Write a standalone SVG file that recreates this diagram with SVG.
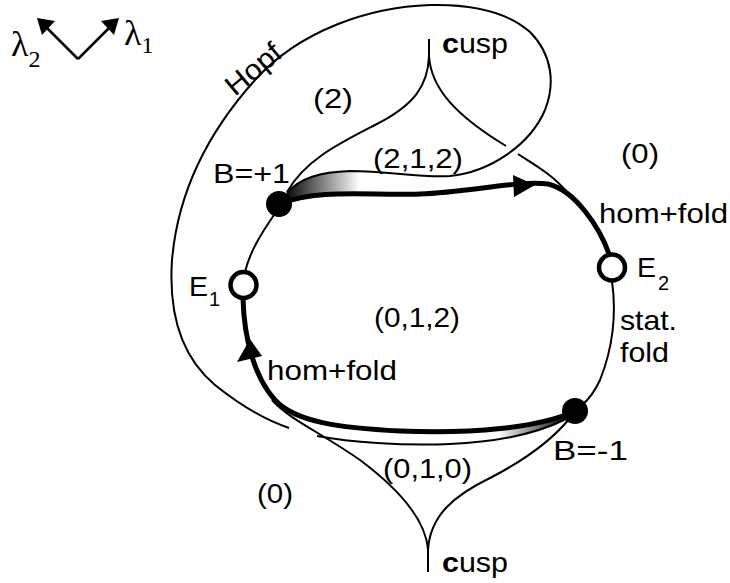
<svg xmlns="http://www.w3.org/2000/svg" width="730" height="583" viewBox="0 0 730 583">
<style>
.thin{fill:none;stroke:#000;stroke-width:2}
.thick{fill:none;stroke:#000;stroke-width:5;stroke-linecap:round}
.t{font-family:"Liberation Sans",Arial,sans-serif;font-size:28.5px;fill:#000}
.sub{font-size:20px}
.g{font-family:"Liberation Serif","Times New Roman",serif;fill:#000}
.dot{fill:#000}
.ring{fill:#fff;stroke:#000;stroke-width:4.5}
</style>
<defs>
<linearGradient id="gTop" gradientUnits="userSpaceOnUse" x1="284" y1="0" x2="360" y2="0">
<stop offset="0" stop-color="#000"/><stop offset="1" stop-color="#fff"/>
</linearGradient>
<linearGradient id="gBot" gradientUnits="userSpaceOnUse" x1="570" y1="0" x2="498" y2="0">
<stop offset="0" stop-color="#000"/><stop offset="1" stop-color="#fff"/>
</linearGradient>
</defs>
<rect width="730" height="583" fill="#fff"/>

<g id="axes">
<line x1="78" y1="59" x2="46" y2="27" stroke="#000" stroke-width="2.5"/>
<line x1="78" y1="59" x2="110" y2="27" stroke="#000" stroke-width="2.5"/>
<polygon points="37,18 55,21 42,35" fill="#000"/>
<polygon points="119,18 101,21 114,35" fill="#000"/>
<text class="g" x="11" y="56" font-size="36">λ<tspan font-size="24" dy="11">2</tspan></text>
<text class="g" x="124" y="45" font-size="36">λ<tspan font-size="24" dy="8">1</tspan></text>
</g>

<g id="shading">
<path d="M287,193 C300,178 320,172 350,171 L372,171 L372,196 L330,196 C310,196 295,198 283,203 Z" fill="url(#gTop)"/>
<path d="M574,412 Q540,425 495,429.5 L495,439.5 Q535,434 566,419 Z" fill="url(#gBot)"/>
</g>

<g id="connectors">
<path class="thin" d="M287,193 C300,178 320,172 350,171 C390,171 420,178 450,176 C490,172 530,145 545,110 C555,85 553,55 530,32 C505,10 470,4 430,5 C370,7 300,30 255,80 C210,130 178,190 172,260 C168,320 185,360 215,385 C240,405 265,420 289,428"/>
<path class="thin" d="M566,419 C540,432 500,442 450,444 C400,446 350,442 317,436"/>
<path class="thin" d="M429,39 L429,57"/>
<path class="thin" d="M429,56 C428,85 415,105 375,125 C340,143 305,160 287,192"/>
<path class="thin" d="M429,56 C431,88 455,115 506,146"/>
<path class="thin" d="M518,154 C535,165 553,175 567,192"/>
<path class="thin" d="M428,572 L428,550"/>
<path class="thin" d="M428,550 C426,520 400,490 360,460 C320,432 290,420 272,400"/>
<path class="thin" d="M428,550 C430,515 455,495 490,478 C525,460 552,440 570,418"/>
<path class="thin" d="M276,212 C265,228 250,250 245,272"/>
<path class="thin" d="M612,281 C616,310 614,345 600,380 C594,393 588,400 582,405"/>
<path class="thick" d="M279,204 C320,188 370,196 420,194 C470,192 520,180 548,184 C575,190 600,228 609,254"/>
<path class="thick" d="M575,411 C540,428 470,434 400,431 C340,428 295,422 275,400 C255,378 244,340 243,298"/>
<polygon points="535,185 513,175 514,197" fill="#000"/>
<polygon points="250,339 237,362 262,356" fill="#000"/>
</g>

<g id="B_plus1">
<circle class="dot" cx="279" cy="204" r="13"/>
<text class="t" x="213" y="183" textLength="77" lengthAdjust="spacingAndGlyphs">B=+1</text>
</g>
<g id="B_minus1">
<circle class="dot" cx="575" cy="411" r="13"/>
<text class="t" x="553" y="460" textLength="75" lengthAdjust="spacingAndGlyphs">B=-1</text>
</g>
<g id="E1">
<circle class="ring" cx="243.5" cy="285" r="13"/>
<text class="t" x="189" y="296" textLength="19" lengthAdjust="spacingAndGlyphs">E</text>
<text class="t sub" x="209" y="306">1</text>
</g>
<g id="E2">
<circle class="ring" cx="612" cy="267.5" r="13"/>
<text class="t" x="637" y="277" textLength="19" lengthAdjust="spacingAndGlyphs">E</text>
<text class="t sub" x="658" y="290">2</text>
</g>

<g id="labels">
<text class="t" transform="translate(235,97) rotate(-40)" textLength="64" lengthAdjust="spacingAndGlyphs">Hopf</text>
<text class="t" x="442" y="53" textLength="66" lengthAdjust="spacingAndGlyphs"><tspan font-weight="bold">c</tspan>usp</text>
<text class="t" x="442" y="572" textLength="66" lengthAdjust="spacingAndGlyphs"><tspan font-weight="bold">c</tspan>usp</text>
<text class="t" x="313" y="108" textLength="40" lengthAdjust="spacingAndGlyphs">(2)</text>
<text class="t" x="373" y="168" textLength="90" lengthAdjust="spacingAndGlyphs">(2,1,2)</text>
<text class="t" x="621" y="163" textLength="38" lengthAdjust="spacingAndGlyphs">(0)</text>
<text class="t" x="599" y="223" textLength="129" lengthAdjust="spacingAndGlyphs">hom+fold</text>
<text class="t" x="374" y="327" textLength="86" lengthAdjust="spacingAndGlyphs">(0,1,2)</text>
<text class="t" x="620" y="330" textLength="57" lengthAdjust="spacingAndGlyphs">stat.</text>
<text class="t" x="620" y="362" textLength="49" lengthAdjust="spacingAndGlyphs">fold</text>
<text class="t" x="267" y="380" textLength="130" lengthAdjust="spacingAndGlyphs">hom+fold</text>
<text class="t" x="383" y="478" textLength="89" lengthAdjust="spacingAndGlyphs">(0,1,0)</text>
<text class="t" x="257" y="503" textLength="36" lengthAdjust="spacingAndGlyphs">(0)</text>
</g>
</svg>
